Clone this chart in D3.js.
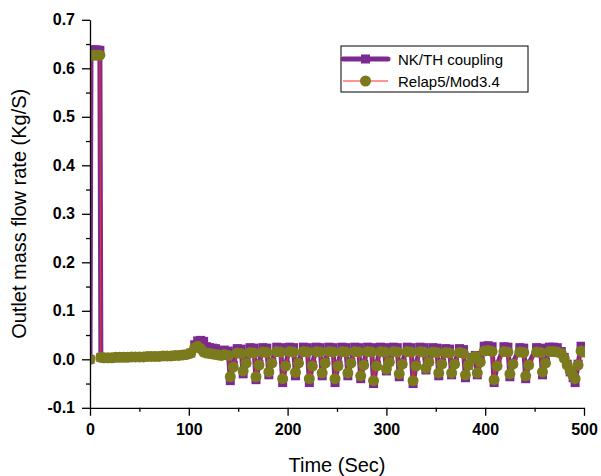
<!DOCTYPE html>
<html lang="en">
<head>
<meta charset="utf-8">
<title>Outlet mass flow rate</title>
<script src="https://cdn.jsdelivr.net/npm/d3@7"></script>
<style>
    body { margin: 0; background: #fff; }
    text { font-family: "Liberation Sans", Arial, sans-serif; }
</style>
</head>
<body>
<script>
// time (s) and outlet mass flow rate (kg/s)
var timeSec = [
    0, 1, 4, 7, 10, 11, 14, 18, 22, 26, 30, 34, 38, 42, 46, 50, 54, 58, 62, 66, 70, 74, 78, 82, 86, 90, 94, 98, 102,
    106, 109, 112, 115, 118, 121, 124, 127, 130, 133,
    136, 140, 142, 145, 149, 153, 155, 158, 162, 166, 168, 171, 175, 179, 181, 184,
    189, 193, 195, 198, 202, 206, 208, 211, 216, 220, 222, 225, 229, 233, 235, 238,
    242, 246, 248, 251, 255, 259, 261, 264, 268, 272, 274, 277, 281, 285, 287, 290,
    294, 298, 300, 303, 307, 311, 313, 316, 321, 325, 327, 330, 334, 338, 340, 343,
    347, 351, 353, 356, 360, 364, 366, 369, 374, 378, 380, 383,
    387, 390, 392, 395, 399, 403, 407, 409, 412, 419, 423, 425, 428,
    435, 439, 441, 444, 452, 456, 458, 461,
    465, 469, 473, 477, 480, 483, 486, 489, 491, 494, 497, 500
];

var nkth = [
    0, 0.638, 0.638, 0.638, 0.637, 0.004, 0.003, 0.003, 0.003, 0.004, 0.004, 0.004, 0.004, 0.005, 0.005, 0.005, 0.005, 0.006, 0.006, 0.006, 0.006, 0.007, 0.007, 0.007, 0.008, 0.008, 0.009, 0.010, 0.013,
    0.030, 0.038, 0.039, 0.037, 0.026, 0.024, 0.023, 0.022, 0.018, 0.017,
    0.019, 0.017, -0.044, -0.012, 0.022, 0.021, -0.030, -0.006, 0.024, 0.023, -0.042, -0.010, 0.024, 0.023, -0.032, -0.006,
    0.025, 0.024, -0.048, -0.012, 0.025, 0.024, -0.034, -0.006, 0.025, 0.024, -0.048, -0.012, 0.025, 0.024, -0.034, -0.006,
    0.025, 0.024, -0.048, -0.012, 0.025, 0.024, -0.034, -0.006, 0.025, 0.024, -0.040, -0.010, 0.025, 0.024, -0.050, -0.012,
    0.025, 0.024, -0.024, -0.004, 0.025, 0.024, -0.036, -0.008, 0.025, 0.024, -0.050, -0.012, 0.025, 0.024, -0.022, -0.004,
    0.024, 0.023, -0.034, -0.008, 0.022, 0.021, -0.032, -0.008, 0.022, 0.020, -0.038, -0.012,
    0.004, 0.008, -0.032, -0.004, 0.027, 0.028, 0.026, -0.048, -0.012, 0.026, 0.025, -0.036, -0.008,
    0.024, 0.023, -0.040, -0.010, 0.024, 0.023, -0.032, -0.006,
    0.025, 0.025, 0.024, 0.016, 0.004, -0.010, -0.026, -0.038, -0.048, -0.010, 0.027, 0.024
];

var relap5 = [
    0, 0.627, 0.627, 0.627, 0.627, 0.004, 0.003, 0.003, 0.003, 0.004, 0.004, 0.004, 0.004, 0.005, 0.005, 0.005, 0.005, 0.006, 0.006, 0.006, 0.006, 0.007, 0.007, 0.007, 0.008, 0.008, 0.009, 0.010, 0.013,
    0.024, 0.027, 0.022, 0.015, 0.013, 0.012, 0.011, 0.010, 0.009, 0.008,
    0.010, 0.008, -0.036, -0.016, 0.013, 0.012, -0.024, -0.008, 0.014, 0.013, -0.036, -0.012, 0.015, 0.014, -0.026, -0.008,
    0.016, 0.015, -0.040, -0.014, 0.016, 0.015, -0.027, -0.008, 0.016, 0.015, -0.040, -0.014, 0.016, 0.015, -0.028, -0.008,
    0.016, 0.015, -0.040, -0.014, 0.016, 0.015, -0.028, -0.008, 0.016, 0.015, -0.034, -0.012, 0.016, 0.015, -0.044, -0.014,
    0.016, 0.015, -0.020, -0.006, 0.016, 0.015, -0.030, -0.010, 0.016, 0.015, -0.044, -0.014, 0.016, 0.015, -0.018, -0.006,
    0.015, 0.014, -0.028, -0.010, 0.014, 0.013, -0.028, -0.010, 0.014, 0.012, -0.032, -0.012,
    0.002, 0.006, -0.028, -0.006, 0.017, 0.018, 0.016, -0.042, -0.014, 0.016, 0.015, -0.030, -0.010,
    0.015, 0.014, -0.034, -0.012, 0.015, 0.014, -0.026, -0.008,
    0.016, 0.016, 0.015, 0.012, 0.002, -0.012, -0.024, -0.034, -0.040, -0.012, 0.017, 0.015
];

var xTicks = [0, 100, 200, 300, 400, 500];
var xMinorTicks = [50, 150, 250, 350, 450];
var yTicks = [-0.1, 0, 0.1, 0.2, 0.3, 0.4, 0.5, 0.6, 0.7];
var yTickLabels = ["-0.1", "0.0", "0.1", "0.2", "0.3", "0.4", "0.5", "0.6", "0.7"];
var yMinorTicks = [-0.05, 0.05, 0.15, 0.25, 0.35, 0.45, 0.55, 0.65];
var seriesNames = ["NK/TH coupling", "Relap5/Mod3.4"];

var purple = "#7c2a90";
var olive = "#7b7b1e";
var red = "#ff2a2a";

var w = 601, h = 476;
var plotLeft = 90, plotRight = 584, plotTop = 19.8, plotBottom = 407.8;

var svg = d3.select("body").append("svg").attr("width", w).attr("height", h);

var x = d3.scaleLinear().domain([0, 500]).range([plotLeft, plotRight]);
var y = d3.scaleLinear().domain([-0.1, 0.7]).range([plotBottom, plotTop]);

svg.append("defs").append("clipPath").attr("id", "plotClip")
    .append("rect")
    .attr("x", plotLeft).attr("y", 0)
    .attr("width", plotRight - plotLeft + 1).attr("height", plotBottom);

var nkPts = timeSec.map(function (t, i) { return [t, nkth[i]]; });
var relPts = timeSec.map(function (t, i) { return [t, relap5[i]]; });

var line = d3.line()
    .x(function (d) { return x(d[0]); })
    .y(function (d) { return y(d[1]); });

var plot = svg.append("g").attr("clip-path", "url(#plotClip)");

// NK/TH coupling: thick purple line with squares
plot.append("path").datum(nkPts)
    .attr("fill", "none").attr("stroke", purple).attr("stroke-width", 5)
    .attr("stroke-linejoin", "round")
    .attr("d", line);

var sq = 9;
plot.selectAll("rect.nk").data(nkPts).enter().append("rect")
    .attr("class", "nk")
    .attr("x", function (d) { return x(d[0]) - sq / 2; })
    .attr("y", function (d) { return y(d[1]) - sq / 2; })
    .attr("width", sq).attr("height", sq)
    .attr("fill", purple);

// Relap5: thin red line with olive circles
plot.append("path").datum(relPts)
    .attr("fill", "none").attr("stroke", red).attr("stroke-width", 1)
    .attr("d", line);

plot.selectAll("circle.rel").data(relPts).enter().append("circle")
    .attr("class", "rel")
    .attr("cx", function (d) { return x(d[0]); })
    .attr("cy", function (d) { return y(d[1]); })
    .attr("r", 5.5)
    .attr("fill", olive);

// axes
svg.append("g").attr("transform", "translate(0," + plotBottom + ")")
    .call(d3.axisBottom(x).tickValues(xTicks).tickSize(8).tickSizeOuter(0).tickPadding(8)
        .tickFormat(d3.format("d")));
svg.append("g").attr("transform", "translate(0," + plotBottom + ")")
    .call(d3.axisBottom(x).tickValues(xMinorTicks).tickSize(4).tickSizeOuter(0).tickFormat(""))
    .select(".domain").remove();

svg.append("g").attr("transform", "translate(" + plotLeft + ",0)")
    .call(d3.axisLeft(y).tickValues(yTicks).tickSize(8).tickSizeOuter(0).tickPadding(7)
        .tickFormat(function (d, i) { return yTickLabels[i]; }));
svg.append("g").attr("transform", "translate(" + plotLeft + ",0)")
    .call(d3.axisLeft(y).tickValues(yMinorTicks).tickSize(4).tickSizeOuter(0).tickFormat(""))
    .select(".domain").remove();

svg.selectAll(".domain, .tick line").attr("stroke", "#000").attr("stroke-width", 1.3);
svg.selectAll(".tick text")
    .attr("fill", "#000")
    .style("font-family", "'Liberation Sans', Arial, sans-serif")
    .style("font-size", "16px")
    .style("font-weight", "bold");

// axis titles
svg.append("text")
    .attr("x", (plotLeft + plotRight) / 2).attr("y", 472)
    .attr("text-anchor", "middle")
    .style("font-size", "20px")
    .text("Time (Sec)");

svg.append("text")
    .attr("transform", "translate(26," + ((plotTop + plotBottom) / 2) + ") rotate(-90)")
    .attr("text-anchor", "middle")
    .style("font-size", "20px")
    .text("Outlet mass flow rate (Kg/S)");

// legend
var lg = svg.append("g");
lg.append("rect")
    .attr("x", 341).attr("y", 46).attr("width", 187).attr("height", 46)
    .attr("fill", "#fff").attr("stroke", "#000").attr("stroke-width", 1);

lg.append("line").attr("x1", 343).attr("x2", 388).attr("y1", 59).attr("y2", 59)
    .attr("stroke", purple).attr("stroke-width", 5).attr("stroke-linecap", "round");
lg.append("rect").attr("x", 365.5 - sq / 2).attr("y", 59 - sq / 2).attr("width", sq).attr("height", sq)
    .attr("fill", purple);
lg.append("line").attr("x1", 343).attr("x2", 388).attr("y1", 81).attr("y2", 81)
    .attr("stroke", red).attr("stroke-width", 1);
lg.append("circle").attr("cx", 365.5).attr("cy", 81).attr("r", 5.5).attr("fill", olive);

lg.selectAll("text.lab").data(seriesNames).enter().append("text")
    .attr("class", "lab")
    .attr("x", 398)
    .attr("y", function (d, i) { return 64.5 + i * 22; })
    .style("font-size", "15px")
    .text(function (d) { return d; });
</script>
</body>
</html>
